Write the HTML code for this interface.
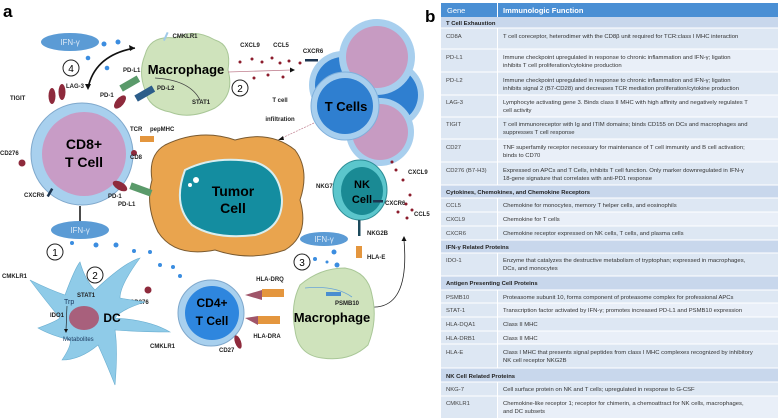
<!DOCTYPE html>
<html><head><meta charset="utf-8"><style>
html,body{margin:0;padding:0;background:#fff;}
svg{display:block;font-family:"Liberation Sans",Arial,sans-serif;}
.l{font-size:6px;font-weight:bold;fill:#222;}
.t{font-size:5.9px;fill:#333;}
.g{font-size:5.9px;fill:#444;}
.s{font-size:5.9px;font-weight:bold;fill:#222;}
</style></head><body>
<svg width="778" height="418" viewBox="0 0 778 418" xmlns="http://www.w3.org/2000/svg">
<text x="3" y="17" font-size="17" font-weight="bold">a</text>
<text x="425" y="22" font-size="17" font-weight="bold">b</text>

<!-- top IFN -->
<ellipse cx="70" cy="42" rx="29" ry="9" fill="#5b9bd5"/>
<text x="70" y="45" font-size="8" fill="#dbe8f6" text-anchor="middle">IFN-γ</text>
<g fill="#3b8de0"><circle cx="104" cy="44" r="2.5"/><circle cx="118" cy="42" r="2.5"/><circle cx="88" cy="58" r="2.3"/><circle cx="107" cy="68" r="2.3"/></g>
<circle cx="71" cy="68" r="8" fill="#fff" stroke="#222"/><text x="71" y="72" font-size="10" text-anchor="middle">4</text>
<path d="M88 88 Q95 55 135 48" fill="none" stroke="#111" stroke-width="1.6"/>
<path d="M135 48 l-6 -3 l1 6z M88 90 l-3 -6 l6 0z" fill="#111"/>

<!-- top macrophage -->
<path d="M145 55 Q150 35 175 38 Q195 28 215 40 Q232 45 228 70 Q235 95 215 108 Q190 120 170 112 Q148 108 145 90 Q138 72 145 55z" fill="#cfe3bc" stroke="#a9c797"/>
<text x="186" y="74" font-size="13" font-weight="bold" text-anchor="middle">Macrophage</text>
<rect x="165" y="32" width="2" height="9" fill="#9fc9e8" transform="rotate(25 166 36)"/>
<text x="185" y="38" class="l" text-anchor="middle">CMKLR1</text>
<path d="M200 100 Q190 80 155 78" fill="none" stroke="#444" stroke-width="0.8"/>
<text x="123" y="72" class="l">PD-L1</text><text x="157" y="90" class="l">PD-L2</text><text x="192" y="104" class="l">STAT1</text>
<rect x="120" y="80" width="20" height="7" fill="#5a9a6a" transform="rotate(-30 130 84)"/>
<rect x="135" y="90" width="20" height="7" fill="#2c5d8a" transform="rotate(-30 145 94)"/>
<circle cx="240" cy="88" r="8" fill="#fff" stroke="#222"/><text x="240" y="92" font-size="10" text-anchor="middle">2</text>
<text x="250" y="47" class="l" text-anchor="middle">CXCL9</text><text x="281" y="47" class="l" text-anchor="middle">CCL5</text>
<text x="313" y="53" class="l" text-anchor="middle">CXCR6</text>
<line x1="228" y1="72" x2="292" y2="70" stroke="#c08090" stroke-width="0.8"/><path d="M295 70 l-5 -2.5 v5z" fill="#111"/>
<g fill="#8c1c2c"><circle cx="240" cy="62" r="1.5"/><circle cx="252" cy="59" r="1.5"/><circle cx="262" cy="62" r="1.5"/><circle cx="272" cy="58" r="1.5"/><circle cx="280" cy="63" r="1.5"/><circle cx="289" cy="61" r="1.5"/><circle cx="300" cy="63" r="1.5"/><circle cx="254" cy="78" r="1.5"/><circle cx="268" cy="75" r="1.5"/><circle cx="283" cy="77" r="1.5"/></g>
<rect x="305" y="59" width="13" height="2.5" fill="#1d3550"/>

<!-- T cells cluster -->
<circle cx="390" cy="95" r="34" fill="#a8cfee"/><circle cx="390" cy="95" r="28" fill="#2f7fd0"/>
<circle cx="380" cy="132" r="34" fill="#a8cfee"/><circle cx="380" cy="132" r="28" fill="#c79bc2"/>
<circle cx="343" cy="85" r="34" fill="#a8cfee"/><circle cx="343" cy="85" r="28" fill="#2f7fd0"/>
<circle cx="377" cy="57" r="38" fill="#a8cfee"/><circle cx="377" cy="57" r="31" fill="#c79bc2"/>
<circle cx="345" cy="106" r="34" fill="#a8cfee" stroke="#7fb0dc"/><circle cx="345" cy="106" r="28" fill="#2f7fd0"/>
<text x="346" y="111" font-size="13" font-weight="bold" text-anchor="middle">T Cells</text>
<text x="280" y="102" class="l" text-anchor="middle" font-size="7">T cell</text>
<text x="280" y="121" class="l" text-anchor="middle" font-size="7">infiltration</text>
<line x1="314" y1="123" x2="282" y2="138" stroke="#c08090" stroke-width="0.7" stroke-dasharray="2,1"/><path d="M278 140 l5 -4 l1 4z" fill="#111"/>

<!-- Tumor -->
<path d="M165 145 Q200 128 235 140 Q270 130 295 150 Q310 170 300 200 Q310 235 285 250 Q250 262 215 250 Q175 258 158 232 Q145 205 152 180 Q148 155 165 145z" fill="#e9a44e" stroke="#7a5a30"/>
<path d="M185 170 Q215 155 255 162 Q280 170 282 200 Q282 228 255 235 Q215 240 192 225 Q172 205 185 170z" fill="#148da0" stroke="#d9eef0" stroke-width="2"/>
<circle cx="196" cy="180" r="3" fill="#fff"/><circle cx="190" cy="185" r="2" fill="#fff"/>
<text x="233" y="196" font-size="14" font-weight="bold" text-anchor="middle">Tumor</text>
<text x="233" y="213" font-size="14" font-weight="bold" text-anchor="middle">Cell</text>

<!-- CD8 T cell -->
<circle cx="82" cy="154" r="51" fill="#a8d0ee" stroke="#7fa8cc"/>
<circle cx="84" cy="154" r="42" fill="#c89cc6"/>
<text x="84" y="149" font-size="14" font-weight="bold" text-anchor="middle">CD8+</text>
<text x="84" y="167" font-size="14" font-weight="bold" text-anchor="middle">T Cell</text>
<g fill="#8e2a3c"><ellipse cx="52" cy="96" rx="3.5" ry="8"/><ellipse cx="62" cy="92" rx="3.5" ry="8"/><ellipse cx="120" cy="102" rx="4" ry="8" transform="rotate(40 120 102)"/><ellipse cx="120" cy="186" rx="4" ry="8" transform="rotate(-60 120 186)"/><circle cx="22" cy="163" r="3.5"/><circle cx="134" cy="153" r="3"/></g>
<text x="75" y="88" class="l" text-anchor="middle">LAG-3</text><text x="10" y="100" class="l">TIGIT</text>
<text x="100" y="97" class="l">PD-1</text><text x="130" y="131" class="l">TCR</text><text x="150" y="131" class="l">pepMHC</text>
<text x="130" y="159" class="l">CD8</text><text x="0" y="155" class="l">CD276</text><text x="24" y="197" class="l">CXCR6</text>
<text x="108" y="198" class="l">PD-1</text><text x="118" y="206" class="l">PD-L1</text>
<rect x="49" y="188" width="2.5" height="9" fill="#1d3550" transform="rotate(30 50 192)"/>
<rect x="140" y="136" width="14" height="6" fill="#e4963e"/><rect x="130" y="186" width="22" height="7" fill="#5a9a6a" transform="rotate(20 141 189)"/>
<line x1="80" y1="206" x2="80" y2="225" stroke="#111" stroke-width="1.5"/><path d="M80 229 l-3 -5 h6z" fill="#111"/>

<!-- NK cell -->
<ellipse cx="360" cy="190" rx="27" ry="30" fill="#5bc6cc" stroke="#2d8d96"/>
<ellipse cx="362" cy="191" rx="21" ry="24" fill="#1a8a94"/>
<text x="362" y="188" font-size="11" font-weight="bold" text-anchor="middle">NK</text>
<text x="362" y="203" font-size="11" font-weight="bold" text-anchor="middle">Cell</text>
<text x="316" y="188" class="l">NKG7</text><text x="385" y="205" class="l">CXCR6</text>
<text x="408" y="174" class="l">CXCL9</text><text x="414" y="216" class="l">CCL5</text>
<text x="367" y="235" class="l">NKG2B</text><text x="367" y="259" class="l">HLA-E</text>
<rect x="373" y="200" width="10" height="2.5" fill="#1d3550"/>
<rect x="358" y="220" width="2.5" height="16" fill="#1d4a5c"/><rect x="356" y="246" width="6" height="12" fill="#e4963e"/>
<g fill="#8c1c2c"><circle cx="392" cy="162" r="1.5"/><circle cx="396" cy="170" r="1.5"/><circle cx="403" cy="180" r="1.5"/><circle cx="410" cy="195" r="1.5"/><circle cx="406" cy="204" r="1.5"/><circle cx="398" cy="212" r="1.5"/><circle cx="412" cy="210" r="1.5"/><circle cx="407" cy="218" r="1.5"/></g>
<path d="M370 307 Q410 310 404 240" fill="none" stroke="#222" stroke-width="0.8"/><path d="M404 236 l-2.5 5 h5z" fill="#111"/>
<ellipse cx="324" cy="239" rx="24" ry="7" fill="#5b9bd5"/><text x="324" y="242" font-size="8" fill="#dbe8f6" text-anchor="middle">IFN-γ</text>
<circle cx="302" cy="262" r="8" fill="#fff" stroke="#222"/><text x="302" y="266" font-size="10" text-anchor="middle">3</text>
<g fill="#3b8de0"><circle cx="315" cy="259" r="2"/><circle cx="327" cy="262" r="1.5"/><circle cx="334" cy="252" r="2.5"/><circle cx="337" cy="265" r="2.5"/></g>

<!-- bottom macrophage -->
<path d="M300 285 Q320 268 345 268 Q368 272 372 295 Q378 320 368 345 Q350 362 322 358 Q298 355 295 330 Q290 305 300 285z" fill="#cfe3bc" stroke="#a9c797"/>
<text x="332" y="322" font-size="13" font-weight="bold" text-anchor="middle">Macrophage</text>
<rect x="326" y="292" width="15" height="4" fill="#4a8ed0"/><text x="335" y="305" class="l">PSMB10</text>
<path d="M352 297 Q335 285 305 288" fill="none" stroke="#6aa4d8" stroke-width="0.8"/>
<text x="270" y="281" class="l" text-anchor="middle">HLA-DRQ</text><text x="267" y="338" class="l" text-anchor="middle">HLA-DRA</text>
<rect x="262" y="289" width="22" height="8" fill="#e4963e"/><rect x="258" y="316" width="22" height="8" fill="#e4963e"/>
<path d="M245 295 L262 290 L262 300z M245 318 L258 316 L258 325z" fill="#a0566a"/>

<!-- CD4 T cell -->
<circle cx="211" cy="313" r="33" fill="#a8d0ee" stroke="#7fa8cc"/>
<circle cx="212" cy="313" r="27" fill="#2e86de"/>
<text x="212" y="307" font-size="12" font-weight="bold" text-anchor="middle">CD4+</text>
<text x="212" y="325" font-size="12" font-weight="bold" text-anchor="middle">T Cell</text>
<ellipse cx="238" cy="342" rx="3" ry="7" fill="#8e2a3c" transform="rotate(-20 238 342)"/>
<text x="219" y="352" class="l">CD27</text>
<circle cx="148" cy="290" r="3.5" fill="#8e2a3c"/><text x="130" y="304" class="l">CD276</text>
<text x="150" y="348" class="l">CMKLR1</text>

<!-- DC -->
<ellipse cx="80" cy="230" rx="29" ry="9" fill="#5b9bd5"/><text x="80" y="233" font-size="8" fill="#dbe8f6" text-anchor="middle">IFN-γ</text>
<circle cx="55" cy="252" r="8" fill="#fff" stroke="#222"/><text x="55" y="256" font-size="10" text-anchor="middle">1</text>
<circle cx="95" cy="275" r="8" fill="#fff" stroke="#222"/><text x="95" y="279" font-size="10" text-anchor="middle">2</text>
<g fill="#3b8de0"><circle cx="72" cy="243" r="2"/><circle cx="96" cy="245" r="2.5"/><circle cx="116" cy="245" r="2.5"/><circle cx="134" cy="251" r="2"/><circle cx="150" cy="252" r="2"/><circle cx="160" cy="265" r="2"/><circle cx="173" cy="267" r="2"/><circle cx="180" cy="276" r="2"/></g>
<path d="M65 295 Q75 268 80 262 Q85 280 95 290 Q125 262 140 258 Q120 285 120 298 Q130 300 145 302 Q120 310 115 318 Q150 320 170 332 Q140 332 115 330 Q118 350 115 385 Q105 360 98 345 Q80 360 62 360 Q72 345 70 340 Q50 335 38 328 Q55 322 60 318 Q45 300 30 280 Q50 290 65 295z" fill="#8fcbe8" stroke="#6aaed0" stroke-width="0.6"/>
<ellipse cx="84" cy="318" rx="15" ry="12" fill="#a8607c"/>
<text x="112" y="322" font-size="12" font-weight="bold" text-anchor="middle">DC</text>
<text x="77" y="297" class="l">STAT1</text><text x="64" y="304" font-size="7" fill="#1c3a60">Trp</text>
<text x="50" y="317" class="l">IDO1</text><text x="63" y="341" font-size="6" fill="#1c3a60">Metabolites</text>
<line x1="67" y1="306" x2="66" y2="330" stroke="#111" stroke-width="0.6"/><path d="M66 333 l-2 -4 h4z" fill="#111"/>
<text x="2" y="278" class="l">CMKLR1</text>

<!-- TABLE -->
<g>
<rect x="441" y="3" width="337" height="415" fill="#dde7f3"/>
<rect x="441" y="3" width="337" height="14" fill="#4a8fd4"/>
<text x="447" y="13" font-size="7.5" fill="#fff">Gene</text><text x="503" y="13" font-size="7.5" font-weight="bold" fill="#fff">Immunologic Function</text>
<g fill="#c8d7ec">
<rect x="441" y="17" width="337" height="11"/><rect x="441" y="185" width="337" height="13"/><rect x="441" y="240" width="337" height="13"/><rect x="441" y="276" width="337" height="14"/><rect x="441" y="368" width="337" height="14"/>
</g>
<g fill="#e9eff8">
<rect x="498" y="49" width="280" height="23"/><rect x="498" y="95" width="280" height="22"/><rect x="498" y="139" width="280" height="23"/><rect x="498" y="212" width="280" height="14"/><rect x="498" y="303" width="280" height="14"/><rect x="498" y="331" width="280" height="13"/><rect x="498" y="396" width="280" height="22"/>
</g>
<g stroke="#fff" stroke-width="1">
<line x1="497.5" y1="3" x2="497.5" y2="17"/><line x1="497.5" y1="28" x2="497.5" y2="185"/><line x1="497.5" y1="198" x2="497.5" y2="240"/><line x1="497.5" y1="253" x2="497.5" y2="276"/><line x1="497.5" y1="290" x2="497.5" y2="368"/><line x1="497.5" y1="382" x2="497.5" y2="418"/>
<line x1="441" y1="28" x2="778" y2="28"/><line x1="441" y1="49" x2="778" y2="49"/><line x1="441" y1="72" x2="778" y2="72"/><line x1="441" y1="95" x2="778" y2="95"/><line x1="441" y1="117" x2="778" y2="117"/><line x1="441" y1="139" x2="778" y2="139"/><line x1="441" y1="162" x2="778" y2="162"/><line x1="441" y1="185" x2="778" y2="185"/><line x1="441" y1="198" x2="778" y2="198"/><line x1="441" y1="212" x2="778" y2="212"/><line x1="441" y1="226" x2="778" y2="226"/><line x1="441" y1="240" x2="778" y2="240"/><line x1="441" y1="253" x2="778" y2="253"/><line x1="441" y1="276" x2="778" y2="276"/><line x1="441" y1="290" x2="778" y2="290"/><line x1="441" y1="303" x2="778" y2="303"/><line x1="441" y1="317" x2="778" y2="317"/><line x1="441" y1="331" x2="778" y2="331"/><line x1="441" y1="344" x2="778" y2="344"/><line x1="441" y1="368" x2="778" y2="368"/><line x1="441" y1="382" x2="778" y2="382"/><line x1="441" y1="396" x2="778" y2="396"/>
</g>
<text x="446" y="25" class="s">T Cell Exhaustion</text>
<text x="446" y="38" class="g">CD8A</text><text x="503" y="38" class="t">T cell coreceptor, heterodimer with the CD8β unit required for TCR:class I MHC interaction</text>
<text x="446" y="59" class="g">PD-L1</text><text x="503" y="59" class="t">Immune checkpoint upregulated in response to chronic inflammation and IFN-γ; ligation</text><text x="503" y="67" class="t">inhibits T cell proliferation/cytokine production</text>
<text x="446" y="82" class="g">PD-L2</text><text x="503" y="82" class="t">Immune checkpoint upregulated in response to chronic inflammation and IFN-γ; ligation</text><text x="503" y="90" class="t">inhibits signal 2 (B7-CD28) and decreases TCR mediation proliferation/cytokine production</text>
<text x="446" y="104" class="g">LAG-3</text><text x="503" y="104" class="t">Lymphocyte activating gene 3. Binds class II MHC with high affinity and negatively regulates T</text><text x="503" y="112" class="t">cell activity</text>
<text x="446" y="126" class="g">TIGIT</text><text x="503" y="126" class="t">T cell immunoreceptor with Ig and ITIM domains;  binds CD155 on DCs and macrophages and</text><text x="503" y="134" class="t">suppresses T cell response</text>
<text x="446" y="149" class="g">CD27</text><text x="503" y="149" class="t">TNF superfamily receptor necessary for maintenance of T cell immunity and B cell activation;</text><text x="503" y="157" class="t">binds to CD70</text>
<text x="446" y="172" class="g">CD276 (B7-H3)</text><text x="503" y="172" class="t">Expressed on APCs and T Cells, inhibits T cell function.  Only marker downregulated in IFN-γ</text><text x="503" y="180" class="t">18-gene signature that correlates with anti-PD1 response</text>
<text x="446" y="194" class="s">Cytokines, Chemokines, and Chemokine Receptors</text>
<text x="446" y="207" class="g">CCL5</text><text x="503" y="207" class="t">Chemokine for monocytes, memory T helper cells, and eosinophils</text>
<text x="446" y="221" class="g">CXCL9</text><text x="503" y="221" class="t">Chemokine for T cells</text>
<text x="446" y="235" class="g">CXCR6</text><text x="503" y="235" class="t">Chemokine receptor expressed on NK cells, T cells, and plasma cells</text>
<text x="446" y="249" class="s">IFN-γ Related Proteins</text>
<text x="446" y="262" class="g">IDO-1</text><text x="503" y="262" class="t">Enzyme that catalyzes the destructive metabolism of tryptophan; expressed in macrophages,</text><text x="503" y="270" class="t">DCs, and monocytes</text>
<text x="446" y="285" class="s">Antigen Presenting Cell Proteins</text>
<text x="446" y="299" class="g">PSMB10</text><text x="503" y="299" class="t">Proteasome subunit 10, forms component of proteasome complex for professional APCs</text>
<text x="446" y="312" class="g">STAT-1</text><text x="503" y="312" class="t">Transcription factor activated by IFN-γ; promotes increased PD-L1 and PSMB10 expression</text>
<text x="446" y="326" class="g">HLA-DQA1</text><text x="503" y="326" class="t">Class II MHC</text>
<text x="446" y="340" class="g">HLA-DRB1</text><text x="503" y="340" class="t">Class II MHC</text>
<text x="446" y="354" class="g">HLA-E</text><text x="503" y="354" class="t">Class I MHC that presents signal peptides from class I MHC complexes recognized by inhibitory</text><text x="503" y="362" class="t">NK cell receptor NKG2B</text>
<text x="446" y="378" class="s">NK Cell Related Proteins</text>
<text x="446" y="391" class="g">NKG-7</text><text x="503" y="391" class="t">Cell surface protein on NK and T cells; upregulated in response to G-CSF</text>
<text x="446" y="405" class="g">CMKLR1</text><text x="503" y="405" class="t">Chemokine-like receptor 1; receptor for chimerin, a chemoattract for NK cells, macrophages,</text><text x="503" y="413" class="t">and DC subsets</text>
</g>
</svg>
</body></html>
